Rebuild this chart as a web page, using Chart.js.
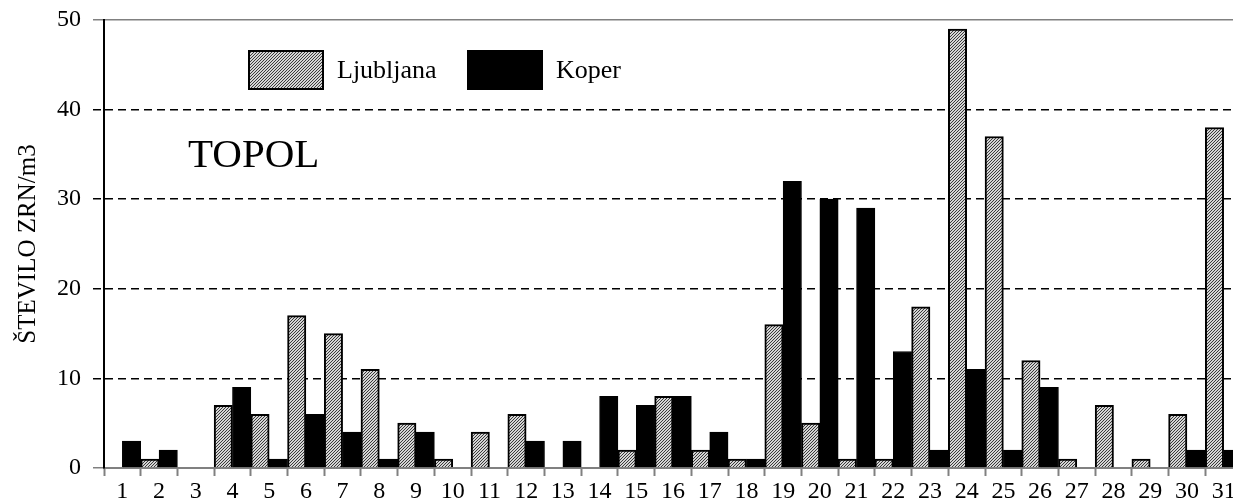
<!DOCTYPE html>
<html>
<head>
<meta charset="utf-8">
<script src="https://cdn.jsdelivr.net/npm/chart.js@4"></script>
<style>
  body { margin: 0; background: #fff; overflow: hidden; }
  #wrap { width: 1242px; height: 499px; }
</style>
</head>
<body>
<div id="wrap"><canvas id="myChart" width="1242" height="499"></canvas></div>
<script>
var dayLabels = ['1','2','3','4','5','6','7','8','9','10','11','12','13','14','15','16',
                 '17','18','19','20','21','22','23','24','25','26','27','28','29','30','31'];
var ljubljanaValues = [0, 1, 0, 7, 6, 17, 15, 11, 5, 1, 4, 6, 0, 0, 2, 8,
                       2, 1, 16, 5, 1, 1, 18, 49, 37, 12, 1, 7, 1, 6, 38];
var koperValues = [3, 2, 0, 9, 1, 6, 4, 1, 4, 0, 0, 3, 3, 8, 7, 8,
                   4, 1, 32, 30, 29, 13, 2, 11, 2, 9, 0, 0, 0, 2, 2];
var seriesNames = ['Ljubljana', 'Koper'];
var plantName = 'TOPOL';
var yAxisTitle = 'ŠTEVILO ZRN/m3';
var yMax = 50;
var yStep = 10;

var gray = '#808080';

// fine diagonal hatch used for the Ljubljana bars
function makeHatch() {
  var c = document.createElement('canvas');
  c.width = 3; c.height = 3;
  var g = c.getContext('2d');
  g.fillStyle = '#d4d4d4';
  g.fillRect(0, 0, 3, 3);
  g.fillStyle = '#3a3a3a';
  for (var i = 0; i < 3; i++) g.fillRect(2 - i, i, 1, 1);
  return g.createPattern(c, 'repeat');
}

// legend and plant name sit inside the plot
var insideText = {
  id: 'insideText',
  afterDraw: function(chart) {
    var ctx = chart.ctx, a = chart.chartArea;
    var x = a.left + 145, y = a.top + 31;
    ctx.save();
    ctx.font = '26px "Liberation Serif"';
    ctx.textBaseline = 'middle';
    ctx.textAlign = 'left';
    chart.data.datasets.forEach(function(ds, i) {
      ctx.fillStyle = ds.backgroundColor;
      ctx.fillRect(x, y, 74, 38);
      ctx.lineWidth = 2;
      ctx.strokeStyle = '#000';
      ctx.strokeRect(x, y, 74, 38);
      ctx.fillStyle = '#000';
      ctx.fillText(ds.label, x + 88, y + 20);
      x += 219;
    });
    ctx.font = '41px "Liberation Serif"';
    ctx.textBaseline = 'alphabetic';
    ctx.fillText(plantName, a.left + 84, a.top + 147);
    ctx.restore();
  }
};

Chart.defaults.font.family = '"Liberation Serif", "Times New Roman", serif';
Chart.defaults.color = '#000';

function inner(c) { return c.tick && c.tick.value > 0 && c.tick.value < yMax; }

window.onload = function() {
  var ctx = document.getElementById('myChart');
  var myChart = new Chart(ctx, {
    type: 'bar',
    data: {
      labels: dayLabels,
      datasets: [
        {
          label: seriesNames[0],
          data: ljubljanaValues,
          backgroundColor: makeHatch(),
          borderColor: '#000',
          borderWidth: 2
        },
        {
          label: seriesNames[1],
          data: koperValues,
          backgroundColor: '#000',
          borderColor: '#000',
          borderWidth: 1
        }
      ]
    },
    plugins: [insideText],
    options: {
      responsive: false,
      animation: false,
      layout: { padding: { top: 20, right: 0, left: 0, bottom: 0 } },
      datasets: { bar: { categoryPercentage: 1, barPercentage: 1 } },
      plugins: {
        legend: { display: false },
        tooltip: { enabled: false }
      },
      scales: {
        x: {
          offset: true,
          grid: {
            offset: true,
            drawOnChartArea: false,
            tickLength: 8,
            tickColor: gray,
            tickWidth: 2
          },
          border: { color: gray, width: 2 },
          ticks: { font: { size: 24 }, padding: 1, maxRotation: 0, autoSkip: false },
          afterFit: function(s) { s.height = 31; }
        },
        y: {
          min: 0,
          max: yMax,
          ticks: { stepSize: yStep, font: { size: 24 }, padding: 12 },
          grid: {
            color: function(c) { return inner(c) ? '#000' : gray; },
            tickColor: function(c) { return inner(c) ? '#000' : gray; },
            tickBorderDash: function(c) { return inner(c) ? [8, 5] : []; },
            tickLength: 11,
            lineWidth: 1.5
          },
          border: {
            color: '#000',
            width: 2,
            dash: function(c) { return inner(c) ? [8, 5] : []; }
          },
          title: {
            display: true,
            text: yAxisTitle,
            font: { size: 25 },
            padding: { top: 13, bottom: 0 }
          },
          afterFit: function(s) {
            s.width = 104;
            s.paddingTop = 0;
            s.paddingBottom = 0;
          }
        }
      }
    }
  });
};
</script>
</body>
</html>
